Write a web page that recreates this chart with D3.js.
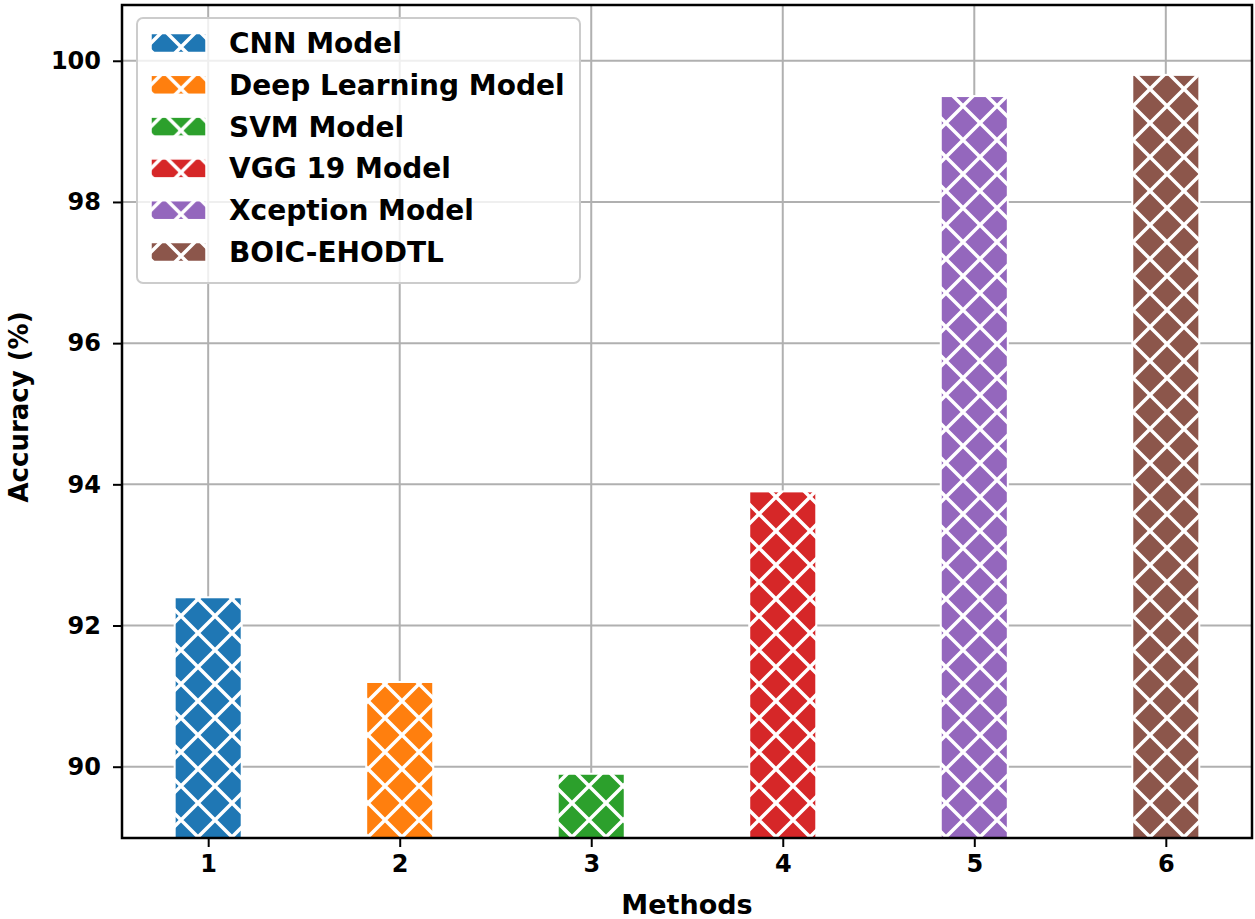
<!DOCTYPE html>
<html>
<head>
    <meta charset="utf-8">
    <script src="https://d3js.org/d3.v7.min.js"></script>
    <style>
        body { margin: 0; background: #fff; }
        text { font-family: "DejaVu Sans", sans-serif; font-weight: bold; }
    </style>
</head>
<body>
    <svg id="chart" width="1255" height="919"></svg>
    <script>
        var methods = [1, 2, 3, 4, 5, 6];
        var models = ["CNN Model", "Deep Learning Model", "SVM Model", "VGG 19 Model", "Xception Model", "BOIC-EHODTL"];
        var accuracy = [92.4, 91.2, 89.9, 93.9, 99.5, 99.8];
        var colors = ["#1f77b4", "#ff7f0e", "#2ca02c", "#d62728", "#9467bd", "#8c564b"];
        var yTicks = [90, 92, 94, 96, 98, 100];

        var svg = d3.select("#chart");
        var pLeft = 122, pRight = 1252, pTop = 5, pBottom = 838;
        var barW = 0.35;

        var x = d3.scaleLinear().domain([0.55, 6.45]).range([pLeft, pRight]);
        var y = d3.scaleLinear().domain([88.99, 100.79]).range([pBottom, pTop]);

        // hatch patterns, one per colour
        var P = 34;
        var defs = svg.append("defs");
        colors.forEach(function (c, i) {
            var p = defs.append("pattern")
                .attr("id", "hatch" + i)
                .attr("patternUnits", "userSpaceOnUse")
                .attr("x", 28).attr("y", 21)
                .attr("width", P).attr("height", P);
            p.append("rect").attr("width", P).attr("height", P).attr("fill", c);
            p.append("path")
                .attr("d", "M-2,-2L" + (P + 2) + "," + (P + 2) + "M-2," + (P + 2) + "L" + (P + 2) + ",-2")
                .attr("stroke", "#fff").attr("stroke-width", 3.5);
        });

        // grid
        var grid = svg.append("g");
        grid.selectAll(".gx").data(methods).enter().append("line")
            .attr("x1", d => x(d)).attr("x2", d => x(d))
            .attr("y1", pTop).attr("y2", pBottom)
            .attr("stroke", "#b0b0b0").attr("stroke-width", 2);
        grid.selectAll(".gy").data(yTicks).enter().append("line")
            .attr("x1", pLeft).attr("x2", pRight)
            .attr("y1", d => y(d)).attr("y2", d => y(d))
            .attr("stroke", "#b0b0b0").attr("stroke-width", 2);

        // bars
        svg.append("g").selectAll("rect")
            .data(accuracy)
            .enter()
            .append("rect")
            .attr("x", (d, i) => x(methods[i] - barW / 2))
            .attr("width", (d, i) => x(methods[i] + barW / 2) - x(methods[i] - barW / 2))
            .attr("y", d => y(d))
            .attr("height", d => pBottom - y(d))
            .attr("fill", (d, i) => "url(#hatch" + i + ")")
            .attr("stroke", "#fff")
            .attr("stroke-width", 2);

        // axes
        var xAxis = svg.append("g")
            .attr("transform", "translate(0," + pBottom + ")")
            .call(d3.axisBottom(x).tickValues(methods).tickFormat(d3.format("d")).tickSize(9).tickPadding(8));
        var yAxis = svg.append("g")
            .attr("transform", "translate(" + pLeft + ",0)")
            .call(d3.axisLeft(y).tickValues(yTicks).tickFormat(d3.format("d")).tickSize(9).tickPadding(12));
        [xAxis, yAxis].forEach(function (a) {
            a.select(".domain").remove();
            a.selectAll(".tick line").attr("stroke", "#000").attr("stroke-width", 2);
            a.selectAll(".tick text").attr("fill", "#000")
                .style("font-size", "24px").style("font-family", "DejaVu Sans").style("font-weight", "bold");
        });

        // frame
        svg.append("rect")
            .attr("x", pLeft).attr("y", pTop)
            .attr("width", pRight - pLeft).attr("height", pBottom - pTop)
            .attr("fill", "none").attr("stroke", "#000").attr("stroke-width", 2.5);

        // axis labels
        svg.append("text")
            .attr("x", (pLeft + pRight) / 2).attr("y", 914)
            .attr("text-anchor", "middle")
            .style("font-size", "27px")
            .text("Methods");
        svg.append("text")
            .attr("transform", "translate(28,407) rotate(-90)")
            .attr("text-anchor", "middle")
            .style("font-size", "26px")
            .text("Accuracy (%)");

        // legend
        var lg = svg.append("g");
        lg.append("rect")
            .attr("x", 137).attr("y", 18).attr("width", 443).attr("height", 265)
            .attr("rx", 6)
            .attr("fill", "#fff").attr("fill-opacity", 0.8)
            .attr("stroke", "#cccccc").attr("stroke-width", 2);
        var rowY = d3.scaleLinear().domain([0, 5]).range([43, 252]);
        var items = lg.selectAll(".item").data(models).enter().append("g")
            .attr("transform", (d, i) => "translate(0," + rowY(i) + ")");
        items.append("rect")
            .attr("x", 151).attr("y", -9.5).attr("width", 55).attr("height", 19)
            .attr("fill", (d, i) => "url(#hatch" + i + ")")
            .attr("stroke", "#fff").attr("stroke-width", 1.5);
        items.append("text")
            .attr("x", 229).attr("dy", "0.36em")
            .style("font-size", "28px")
            .text(d => d);
    </script>
</body>
</html>
